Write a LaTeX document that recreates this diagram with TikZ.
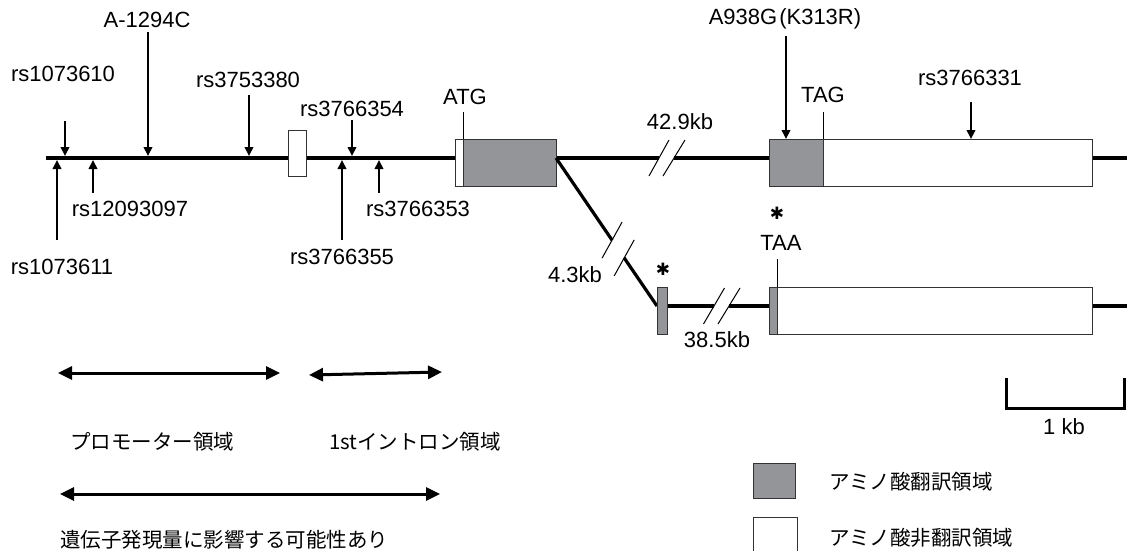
\documentclass[tikz,border=0pt]{standalone}
\usepackage{fontspec}
\setmainfont{Liberation Sans}
\newfontfamily\jp{Noto Sans CJK JP}
\newfontfamily\sym{DejaVu Sans}
\usetikzlibrary{arrows.meta,calc}
\definecolor{exgray}{HTML}{939598}
\begin{document}
\begin{tikzpicture}[x=1pt,y=-1pt,
  lbl/.style={font=\fontsize{22}{24}\selectfont, inner sep=0pt},
  jlbl/.style={font=\jp\fontsize{20.5}{24}\selectfont, inner sep=0pt, anchor=west},
  astr/.style={font=\sym\bfseries\fontsize{17}{20}\selectfont, inner sep=0pt},
  snp/.style={line width=2pt, -{Triangle[length=9pt,width=8.5pt]}},
  dna/.style={line width=3.2pt},
  exon/.style={draw=black!80, line width=1pt},
  brk/.style={line width=1pt},
  tickline/.style={line width=0.8pt},
  rangearrow/.style={line width=3pt, {Triangle[length=14pt,width=13pt]}-{Triangle[length=14pt,width=13pt]}},
]
\useasboundingbox (0,0) rectangle (1127,551);

% ---------- main line ----------
\coordinate (m0) at (46,158);
\coordinate (atgL) at (455,158);
\coordinate (atgR) at (556,158);
\coordinate (g1a) at (659,158);
\coordinate (g1b) at (674,158);
\coordinate (e2L) at (769,158);
\coordinate (e2R) at (1092,158);
\coordinate (m1) at (1127,158);
\draw[dna] (m0) -- (atgL);
\draw[dna] (atgR) -- (g1a);
\draw[dna] (g1b) -- (e2L);
\draw[dna] (e2R) -- (m1);
\draw[brk] ($(g1a)+(-10,18)$) -- ($(g1a)+(10,-18)$);
\draw[brk] ($(g1b)+(-11,18)$) -- ($(g1b)+(11,-18)$);

% small first exon
\draw[exon, fill=white] (288,130) rectangle (306,176);
% ATG exon
\draw[exon, fill=white] (455,139) rectangle (556,186);
\draw[exon, fill=exgray] (463,139) rectangle (556,186);
\draw[tickline] (463,112) -- (463,139);
% last exon (main)
\draw[exon, fill=white] (769,139) rectangle (1092,186);
\draw[exon, fill=exgray] (769,139) rectangle (823,186);
\draw[tickline] (823,112) -- (823,139);

% ---------- alternative transcript ----------
\coordinate (dA) at (556,158);
\coordinate (dB) at (657,306);
\coordinate (dp1) at ($(dA)!0.555!(dB)$);
\coordinate (dp2) at ($(dA)!0.675!(dB)$);
\draw[dna] (dA) -- (dp1);
\draw[dna] (dp2) -- (dB);
\draw[brk] ($(dp1)+(-10,18)$) -- ($(dp1)+(10,-18)$);
\draw[brk] ($(dp2)+(-10,18)$) -- ($(dp2)+(10,-18)$);

\coordinate (l0) at (667,306);
\coordinate (g2a) at (714,306);
\coordinate (g2b) at (729,306);
\coordinate (l1) at (769,306);
\coordinate (l2) at (1092,306);
\coordinate (l3) at (1127,306);
\draw[dna] (l0) -- (g2a);
\draw[dna] (g2b) -- (l1);
\draw[dna] (l2) -- (l3);
\draw[brk] ($(g2a)+(-10.5,18)$) -- ($(g2a)+(10.5,-18)$);
\draw[brk] ($(g2b)+(-11,18)$) -- ($(g2b)+(11,-18)$);

\draw[exon, fill=exgray] (657,287) rectangle (667,334);
\draw[exon, fill=white] (769,287) rectangle (1092,334);
\draw[exon, fill=exgray] (769,287) rectangle (777,334);
\draw[tickline] (777,259) -- (777,287);

% ---------- SNP arrows ----------
\coordinate (a1s) at (65,121);   \coordinate (a1e) at (65,156);
\coordinate (a2s) at (148,32);   \coordinate (a2e) at (148,156);
\coordinate (a3s) at (249,95);   \coordinate (a3e) at (249,156);
\coordinate (a4s) at (352,120);  \coordinate (a4e) at (352,156);
\coordinate (a5s) at (786,36);   \coordinate (a5e) at (786,139);
\coordinate (a6s) at (971,102);  \coordinate (a6e) at (971,139);
\coordinate (b1s) at (57,240);   \coordinate (b1e) at (57,160);
\coordinate (b2s) at (93,193);   \coordinate (b2e) at (93,160);
\coordinate (b3s) at (342,240);  \coordinate (b3e) at (342,160);
\coordinate (b4s) at (379,193);  \coordinate (b4e) at (379,160);
\foreach \p in {a1,a2,a3,a4,a5,a6,b1,b2,b3,b4}{\draw[snp] (\p s) -- (\p e);}

% ---------- labels ----------
\node[lbl] (tA1294) at (147,20) {A-1294C};
\node[lbl] (t10) at (63,74) {rs1073610};
\node[lbl] (t80) at (248,80) {rs3753380};
\node[lbl] (t54) at (352,109) {rs3766354};
\node[lbl] (tatg) at (465,97) {ATG};
\node[lbl] (t429) at (680,122) {42.9kb};
\node[lbl] (tA938) at (785,19) {A938G\kern2pt(K313R)};
\node[lbl] (ttag) at (823,95) {TAG};
\node[lbl] (t31) at (970,78) {rs3766331};
\node[lbl] (t97) at (130,209) {rs12093097};
\node[lbl] (t53) at (418,209) {rs3766353};
\node[lbl] (t11) at (62,267) {rs1073611};
\node[lbl] (t55) at (342,257) {rs3766355};
\node[astr] (st1) at (777,213) {✱};
\node[lbl] (ttaa) at (781,243) {TAA};
\node[astr] (st2) at (663,269) {✱};
\node[lbl] (t43) at (575,275) {4.3kb};
\node[lbl] (t385) at (717,340) {38.5kb};

% ---------- regions ----------
\coordinate (r1a) at (58,373);  \coordinate (r1b) at (280,373);
\coordinate (r2a) at (309,375); \coordinate (r2b) at (442,372);
\coordinate (r3a) at (60,494);  \coordinate (r3b) at (440,494);
\draw[rangearrow] (r1a) -- (r1b);
\draw[rangearrow] (r2a) -- (r2b);
\draw[rangearrow] (r3a) -- (r3b);
\node[jlbl] (tprom) at (70,442) {プロモーター領域};
\node[jlbl] (tintr) at (329,442) {1stイントロン領域};
\node[jlbl] (texpr) at (60,540) {遺伝子発現量に影響する可能性あり};

% ---------- scale bar ----------
\coordinate (sb1) at (1006,378);
\coordinate (sb2) at (1006,408);
\coordinate (sb3) at (1124,408);
\coordinate (sb4) at (1124,378);
\draw[line width=3pt] (sb1) -- (sb2) -- (sb3) -- (sb4);
\node[lbl] (t1kb) at (1064,427) {1 kb};

% ---------- legend ----------
\draw[exon, fill=exgray] (753,463) rectangle (795,498);
\draw[exon] (753,553) -- (753,517) -- (797,517) -- (797,553);
\node[jlbl] (tleg1) at (829,482) {アミノ酸翻訳領域};
\node[jlbl] (tleg2) at (829,538) {アミノ酸非翻訳領域};
\end{tikzpicture}
\end{document}
